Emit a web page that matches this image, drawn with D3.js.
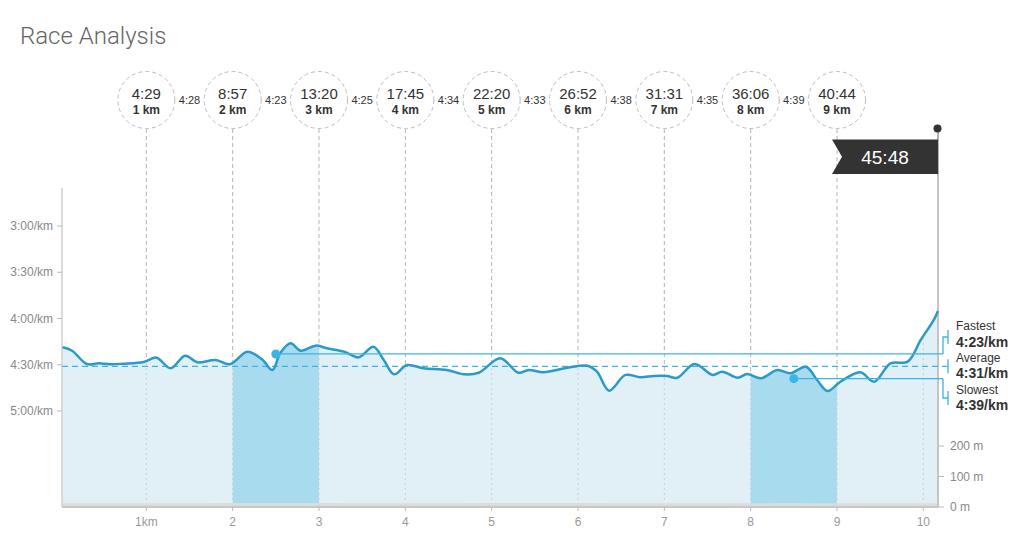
<!DOCTYPE html>
<html>
<head>
<meta charset="utf-8">
<script src="https://cdn.jsdelivr.net/npm/d3@7"></script>
<style>
  html, body { margin: 0; padding: 0; background: #fff; }
  svg { display: block; font-family: "Helvetica Neue", "Liberation Sans", Arial, sans-serif; }
</style>
</head>
<body>
<svg id="chart" width="1024" height="555"></svg>
<script>
// ---- Data ----
const splitKm = [1, 2, 3, 4, 5, 6, 7, 8, 9];
const cumulativeTimes = ["4:29", "8:57", "13:20", "17:45", "22:20", "26:52", "31:31", "36:06", "40:44"];
const splitPaces = ["4:28", "4:23", "4:25", "4:34", "4:33", "4:38", "4:35", "4:39"]; // between circles
const finishTime = "45:48";
const totalDistance = 10.17;
const xTicks = [1, 2, 3, 4, 5, 6, 7, 8, 9, 10];
const paceTicks = [180, 210, 240, 270, 300];
const elevTicks = [0, 100, 200];

// pace trace: distance (km) and pace (sec/km)
const traceDist = [0.03,0.14,0.31,0.45,0.58,0.73,0.97,1.12,1.28,1.45,1.59,1.80,1.97,2.17,2.34,2.46,2.55,2.67,2.79,2.96,3.09,3.29,3.46,3.63,3.75,3.87,4.02,4.21,4.48,4.68,4.85,5.10,5.31,5.43,5.60,5.88,6.11,6.22,6.36,6.55,6.72,6.88,7.03,7.15,7.35,7.56,7.67,7.85,7.96,8.12,8.31,8.46,8.64,8.77,8.89,9.04,9.27,9.43,9.62,9.82,9.97,10.12,10.17];
const tracePace = [258.7,260.9,269.5,269.1,269.7,269.3,268.2,265.4,272.3,264.1,268.4,266.9,269.7,261.5,266.5,273.4,262.6,256.1,260.9,257.6,259.3,261.5,265.2,258.3,266.9,276.2,270.2,272.3,273.4,276.2,275.2,265.8,275.2,273.4,274.9,271.9,270.6,274.5,286.8,276.6,278.1,277.3,277.3,278.4,269.5,276.6,274.5,278.4,276.0,278.8,273.4,275.5,271.3,279.9,287.0,281.0,274.9,281.0,269.1,268.0,253.9,241.0,235.1];

// elevation (m)
const elevDist = [0.03, 1, 2, 3, 4, 5, 6, 7, 8, 8.5, 9, 10, 10.17];
const elevation = [12, 12, 13, 13, 12, 13, 13, 12, 12, 13, 12, 12, 12];

// summary
const fastest = { label: "Fastest", pace: 263, text: "4:23/km", km: 3 };
const average = { label: "Average", pace: 271, text: "4:31/km" };
const slowest = { label: "Slowest", pace: 279, text: "4:39/km", km: 9 };

// ---- Layout ----
const svg = d3.select("#chart");
const pL = 62, pR = 938, pT = 188, pB = 507;

const x = d3.scaleLinear().domain([0, totalDistance]).range([60, pR]);
const y = d3.scaleLinear().domain([180, 300]).range([226, 411]);
const yE = d3.scaleLinear().domain([0, 100]).range([pB, 476.5]);

const fmtPace = s => `${Math.floor(s / 60)}:${String(Math.round(s % 60)).padStart(2, "0")}/km`;

const trace = traceDist.map((d, i) => ({ d, p: tracePace[i] }));
const elev = elevDist.map((d, i) => ({ d, e: elevation[i] }));

const curve = d3.curveCatmullRom.alpha(0.5);
const line = d3.line().x(v => x(v.d)).y(v => y(v.p)).curve(curve);
const area = d3.area().x(v => x(v.d)).y0(pB).y1(v => y(v.p)).curve(curve);
const areaAbove = d3.area().x(v => x(v.d)).y0(0).y1(v => y(v.p)).curve(curve);

const defs = svg.append("defs");
defs.append("clipPath").attr("id", "below").append("path").attr("d", area(trace));
defs.append("clipPath").attr("id", "above").append("path").attr("d", areaAbove(trace));

// Title
svg.append("text").attr("x", 20).attr("y", 44)
  .attr("font-size", 24).attr("font-weight", 300).attr("fill", "#666")
  .attr("font-family", "Roboto, 'Helvetica Neue', sans-serif")
  .text("Race Analysis");

// Area fill
svg.append("path").attr("d", area(trace)).attr("fill", "#e1eff7");

// Highlighted km (fastest and slowest)
[fastest.km, slowest.km].forEach((k, i) => {
  const id = "hl" + i;
  defs.append("clipPath").attr("id", id).append("rect")
    .attr("x", x(k - 1)).attr("y", 0).attr("width", x(k) - x(k - 1)).attr("height", 600);
  svg.append("path").attr("d", area(trace)).attr("fill", "#a9dbee").attr("clip-path", `url(#${id})`);
});

// Elevation area
const elevArea = d3.area().x(v => x(v.d)).y0(pB).y1(v => yE(v.e)).curve(d3.curveMonotoneX);
svg.append("path").attr("d", elevArea(elev)).attr("fill", "#dcdcdc");

// Vertical km lines: dotted inside area, dashed above
svg.append("g").attr("clip-path", "url(#below)")
  .selectAll("line").data(xTicks).join("line")
  .attr("x1", d => x(d)).attr("x2", d => x(d)).attr("y1", pT).attr("y2", pB - 4)
  .attr("stroke", "#c8d0d4").attr("stroke-width", 1).attr("stroke-dasharray", "2,3");
svg.append("g").attr("clip-path", "url(#above)")
  .selectAll("line").data(splitKm).join("line")
  .attr("x1", d => x(d)).attr("x2", d => x(d)).attr("y1", 129).attr("y2", pB)
  .attr("stroke", "#b5b5b5").attr("stroke-width", 1).attr("stroke-dasharray", "4,3");

// Axes lines
svg.append("line").attr("x1", pL).attr("x2", pL).attr("y1", pT).attr("y2", pB)
  .attr("stroke", "#cfcfcf").attr("stroke-width", 1.5);
svg.append("line").attr("x1", pL).attr("x2", pR).attr("y1", pB).attr("y2", pB)
  .attr("stroke", "#c8c8c8").attr("stroke-width", 2);

// Left axis ticks
const ly = svg.append("g").selectAll("g").data(paceTicks).join("g");
ly.append("line").attr("x1", 57).attr("x2", pL).attr("y1", d => y(d)).attr("y2", d => y(d)).attr("stroke", "#bbb");
ly.append("text").attr("x", 53).attr("y", d => y(d) + 4).attr("text-anchor", "end")
  .attr("font-size", 12).attr("fill", "#888").text(d => fmtPace(d));

// Right elevation axis
const ry = svg.append("g").selectAll("g").data(elevTicks).join("g");
ry.append("line").attr("x1", pR).attr("x2", pR + 6).attr("y1", d => yE(d)).attr("y2", d => yE(d)).attr("stroke", "#bbb");
ry.append("text").attr("x", 950).attr("y", d => yE(d) + 4)
  .attr("font-size", 12).attr("fill", "#888").text(d => `${d} m`);

// Bottom axis labels
const bx = svg.append("g").selectAll("g").data(xTicks).join("g");
bx.append("line").attr("x1", d => x(d)).attr("x2", d => x(d)).attr("y1", pB).attr("y2", pB + 4).attr("stroke", "#bbb");
bx.append("text").attr("x", d => x(d)).attr("y", 526).attr("text-anchor", "middle")
  .attr("font-size", 12).attr("fill", "#999").text(d => d === 1 ? "1km" : d);

// Finish pole (right border)
svg.append("line").attr("x1", pR).attr("x2", pR).attr("y1", 128).attr("y2", pB)
  .attr("stroke", "#9a9a9a").attr("stroke-width", 1.5);
svg.append("line").attr("x1", pR).attr("x2", pR).attr("y1", 175).attr("y2", pB)
  .attr("stroke", "#c4c4c4").attr("stroke-width", 2);
svg.append("circle").attr("cx", pR - 0.5).attr("cy", 128.5).attr("r", 4).attr("fill", "#333");

// Average dashed line
const hiBlue = "#3cb4e6";
svg.append("line").attr("x1", pL).attr("x2", 943).attr("y1", y(average.pace)).attr("y2", y(average.pace))
  .attr("stroke", hiBlue).attr("stroke-width", 1.2).attr("stroke-dasharray", "6,4");

// Pace line
svg.append("path").attr("d", line(trace)).attr("fill", "none")
  .attr("stroke", "#2a9ac8").attr("stroke-width", 2.5).attr("stroke-linejoin", "round");

// Fastest / slowest guide lines and dots
[fastest, slowest].forEach(s => {
  const cx = x(s.km - 0.5);
  svg.append("line").attr("x1", cx).attr("x2", 943).attr("y1", y(s.pace)).attr("y2", y(s.pace))
    .attr("stroke", hiBlue).attr("stroke-width", 1.3);
  svg.append("circle").attr("cx", cx).attr("cy", y(s.pace)).attr("r", 4.5).attr("fill", hiBlue);
});

// Right brackets and labels
const labels = [
  { s: fastest, mid: 337, b1: 330, b2: 347 },
  { s: average, mid: y(average.pace), b1: 362, b2: 378 },
  { s: slowest, mid: 398, b1: 394, b2: 410 }
];
labels.forEach(l => {
  const ly0 = y(l.s.pace);
  svg.append("path")
    .attr("d", `M943,${ly0}V${l.mid}H948M948,${l.mid - 7}V${l.mid + 7}`)
    .attr("fill", "none").attr("stroke", hiBlue).attr("stroke-width", 1.3);
  svg.append("text").attr("x", 956).attr("y", l.b1).attr("font-size", 12).attr("fill", "#333").text(l.s.label);
  svg.append("text").attr("x", 956).attr("y", l.b2).attr("font-size", 14).attr("font-weight", "bold").attr("fill", "#333").text(l.s.text);
});

// Split circles
const cy = 100, r = 28.5;
const cg = svg.append("g").selectAll("g").data(splitKm).join("g")
  .attr("transform", d => `translate(${x(d)},${cy})`);
cg.append("circle").attr("r", r).attr("fill", "#fff").attr("stroke", "#bdbdbd").attr("stroke-dasharray", "4,3");
cg.append("text").attr("y", -1).attr("text-anchor", "middle").attr("font-size", 15).attr("fill", "#333")
  .text((d, i) => cumulativeTimes[i]);
cg.append("text").attr("y", 14).attr("text-anchor", "middle").attr("font-size", 12).attr("font-weight", "bold").attr("fill", "#333")
  .text(d => `${d} km`);

// Split paces between circles
svg.append("g").selectAll("text").data(splitPaces).join("text")
  .attr("x", (d, i) => x(splitKm[i] + 0.5)).attr("y", 104).attr("text-anchor", "middle")
  .attr("font-size", 11).attr("fill", "#333").text(d => d);

// Finish flag
const fx0 = 832, fx1 = pR, fy0 = 139.5, fy1 = 174;
svg.append("path")
  .attr("d", `M${fx0},${fy0}H${fx1}V${fy1}H${fx0}L${fx0 + 10},${(fy0 + fy1) / 2}Z`)
  .attr("fill", "#333");
svg.append("text").attr("x", 885).attr("y", 163.5).attr("text-anchor", "middle")
  .attr("font-size", 19).attr("fill", "#fff").text(finishTime);
</script>
</body>
</html>
